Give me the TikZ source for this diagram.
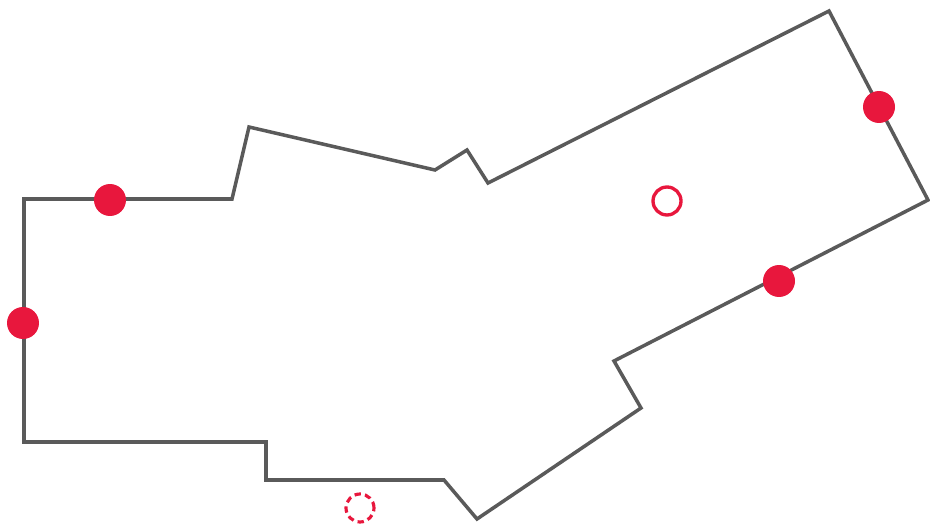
\documentclass[tikz,border=0pt]{standalone}
\usetikzlibrary{positioning}
\definecolor{wall}{HTML}{5A5A5A}
\definecolor{pin}{HTML}{E8173D}

\begin{document}
\begin{tikzpicture}[x=0.02cm, y=-0.02cm,
  outline/.style={draw=wall, line width=2pt, line join=miter},
  spot/.style={circle, fill=pin, draw=none, minimum size=0.64cm, inner sep=0pt},
  ring/.style={circle, draw=pin, line width=1.9pt, fill=white, minimum size=0.56cm, inner sep=0pt},
  ghost/.style={circle, draw=pin, line width=1.8pt, dash pattern=on 3.6pt off 2.4pt,
                minimum size=0.56cm, inner sep=0pt},
]
\useasboundingbox (0,0) rectangle (930,530);
\draw[outline] (24,199) -- (232,199) -- (249,127) -- (435,170) -- (467,150)
  -- (488,183) -- (829,11) -- (928,200) -- (614,361) -- (641,408)
  -- (477,519) -- (444,480) -- (266,480) -- (266,442) -- (24,442) -- cycle;
\node[spot] (top) at (110,200) {};
\node[spot] (left) at (23,323) {};
\node[spot] (east) at (879,107) {};
\node[spot] (lower) at (779,281) {};
\node[ring] (open) at (667,201) {};
\node[ghost] (gone) at (360,508) {};
\end{tikzpicture}
\end{document}
